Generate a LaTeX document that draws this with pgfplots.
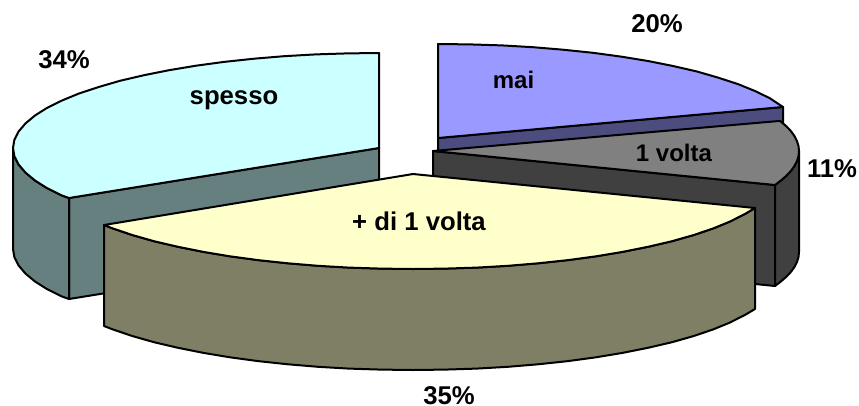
\documentclass[border=0pt]{standalone}
\usepackage{pgfplots}
\pgfplotsset{compat=1.18}
\usepackage{fontspec}
\setmainfont{Liberation Sans}
\definecolor{cblue}{HTML}{9999FF}
\definecolor{cbluew}{HTML}{4C4C7F}
\definecolor{cgray}{HTML}{808080}
\definecolor{cgrayw}{HTML}{404040}
\definecolor{ccyan}{HTML}{CCFFFF}
\definecolor{ccyanw}{HTML}{667F7F}
\definecolor{cyel}{HTML}{FFFFCC}
\definecolor{cyelw}{HTML}{7F7F66}
\tikzset{lab/.style={font=\fontsize{25.7}{30}\selectfont\bfseries, text=black, inner sep=0pt, anchor=center},
labs/.style={font=\fontsize{24}{29}\selectfont\bfseries, text=black, inner sep=0pt, anchor=center}}
\begin{document}
\begin{tikzpicture}
\useasboundingbox (0,0) rectangle (859pt,405pt);
\begin{axis}[
  scale only axis, width=859pt, height=405pt,
  xmin=0, xmax=859, ymin=0, ymax=405, y dir=reverse,
  hide axis, clip=false,
  every axis plot/.append style={draw=black, line width=2pt, line join=round, mark=none, solid}
]
% mai: wall strip and top
\addplot[fill=cbluew] coordinates {(438,138)(783,107)(783,124)(438,155)} --cycle;
\addplot[fill=cblue] coordinates {(438,138)(438,44)(470,44.4)(502,45.4)(533,47.2)(563,49.7)(593,52.8)(621,56.6)(648,61)(673,66)(697,71.5)(718,77.6)(738,84.1)(755,91)(770,98.3)(783,107)} --cycle;
% 1 volta: cut face, outer wall, top
\addplot[fill=cgrayw] coordinates {(433,151)(775,185)(775,286)(433,252)} --cycle;
\addplot[fill=cgrayw] coordinates {(799,151)(798.5,156)(797,161)(794.5,165.9)(791,170.8)(786.5,175.6)(781,180.4)(775,185)(775,286)(781,281.4)(786.5,276.6)(791,271.8)(794.5,266.9)(797,262)(798.5,257)(799,252)} --cycle;
\addplot[fill=cgray] coordinates {(433,151)(780,120.9)(786.5,126.4)(791,131.2)(794.5,136.1)(797,141.1)(798.5,146)(799,151)(798.5,156)(797,161)(794.5,165.9)(791,170.8)(786.5,175.6)(781,180.4)(775,185)} --cycle;
% spesso: cut face, outer wall, top
\addplot[fill=ccyanw] coordinates {(379,148)(69,198)(69,299)(379,249)} --cycle;
\addplot[fill=ccyanw] coordinates {(13,148)(14.4,156.3)(18.6,164.5)(25.5,172.6)(35,180.5)(47,188.1)(62,195.5)(69,198)(69,299)(62,296.5)(47,289.1)(35,281.5)(25.5,273.6)(18.6,265.5)(14.4,257.3)(13,249)} --cycle;
\addplot[fill=ccyan] coordinates {(379,148)(379,53)(347,53.4)(315.5,54.4)(284,56.2)(254,58.7)(224,61.9)(196,65.7)(169,70.2)(144,75.2)(120,80.8)(99,86.9)(79,93.5)(62,100.5)(47,107.9)(35,115.5)(25.5,123.4)(18.6,131.5)(14.4,139.7)(13,148)(14.4,156.3)(18.6,164.5)(25.5,172.6)(35,180.5)(47,188.1)(62,195.5)(69,198)} --cycle;
% + di 1 volta: wall, top
\addplot[fill=cyelw] coordinates {(104,225)(113,228.5)(132.6,235.1)(154,241.2)(178,246.8)(203,251.8)(230,256.3)(258,260.1)(288,263.3)(318,265.8)(349,267.6)(381,268.6)(413,269)(445,268.6)(476.6,267.6)(508,265.8)(538,263.3)(568,260.1)(596,256.3)(623,251.8)(648,246.8)(672,241.2)(693.4,235.1)(713,228.5)(730,221.5)(744.7,214.1)(755,208)(755,309)(744.7,315.1)(730,322.5)(713,329.5)(693.4,336.1)(672,342.2)(648,347.8)(623,352.8)(596,357.3)(568,361.1)(538,364.3)(508,366.8)(476.6,368.6)(445,369.6)(413,370)(381,369.6)(349,368.6)(318,366.8)(288,364.3)(258,361.1)(230,357.3)(203,352.8)(178,347.8)(154,342.2)(132.6,336.1)(113,329.5)(104,326)} --cycle;
\addplot[fill=cyel] coordinates {(413,174)(104,225)(113,228.5)(132.6,235.1)(154,241.2)(178,246.8)(203,251.8)(230,256.3)(258,260.1)(288,263.3)(318,265.8)(349,267.6)(381,268.6)(413,269)(445,268.6)(476.6,267.6)(508,265.8)(538,263.3)(568,260.1)(596,256.3)(623,251.8)(648,246.8)(672,241.2)(693.4,235.1)(713,228.5)(730,221.5)(744.7,214.1)(755,208)} --cycle;
% labels
\node[lab] at (axis cs:657,24) {20\%};
\node[lab] at (axis cs:64,60) {34\%};
\node[lab] at (axis cs:832,169) {11\%};
\node[lab] at (axis cs:449,395.5) {35\%};
\node[labs] at (axis cs:513.5,80) {mai};
\node[lab] at (axis cs:234,100) {spesso};
\node[labs] at (axis cs:674,153) {1 volta};
\node[lab] at (axis cs:419,221.5) {+ di 1 volta};
\end{axis}
\end{tikzpicture}
\end{document}
